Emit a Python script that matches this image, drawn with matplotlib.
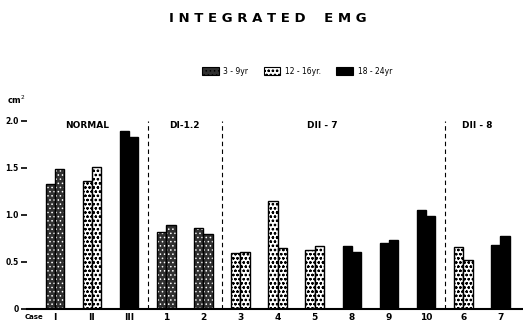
import matplotlib
matplotlib.use("Agg")
import matplotlib.pyplot as plt
from matplotlib.patches import Patch
from matplotlib.transforms import blended_transform_factory

# ---- data ----
case_labels = ["I", "II", "III", "1", "2", "3", "4", "5", "8", "9", "10", "6", "7"]
bar_a = [1.33, 1.36, 1.89, 0.82, 0.86, 0.60, 1.15, 0.63, 0.67, 0.70, 1.05, 0.66, 0.68]
bar_b = [1.49, 1.51, 1.83, 0.89, 0.80, 0.61, 0.65, 0.67, 0.61, 0.73, 0.99, 0.52, 0.78]
age_group = ["3-9", "12-16", "18-24", "3-9", "3-9", "12-16", "12-16", "12-16",
             "18-24", "18-24", "18-24", "12-16", "18-24"]
group_names = ["NORMAL", "DI-1.2", "DII - 7", "DII - 8"]
group_label_x = [0.86, 3.5, 7.2, 11.37]
dividers = [2.5, 4.5, 10.5]
yticks = [0, 0.5, 1.0, 1.5, 2.0]
ytick_labels = ["0", "0.5", "1.0", "1.5", "2.0"]
legend_labels = {"3-9": "3 - 9yr", "12-16": "12 - 16yr.", "18-24": "18 - 24yr"}

styles = {
    "3-9": dict(facecolor="#303030", edgecolor="white", hatch="...."),
    "12-16": dict(facecolor="white", edgecolor="black", hatch="oooo"),
    "18-24": dict(facecolor="black", edgecolor="black", hatch=None),
}

plt.rcParams["font.family"] = ["Liberation Sans Narrow", "DejaVu Sans"]
plt.rcParams["hatch.linewidth"] = 0.6

W, H = 523, 322
fig = plt.figure(figsize=(W / 100, H / 100), dpi=100)
ax = fig.add_axes([27 / W, 13 / H, (523 - 27) / W, 209 / H])

w = 0.25
for i, lab in enumerate(case_labels):
    st = styles[age_group[i]]
    for off, val in ((-w / 2, bar_a[i]), (w / 2, bar_b[i])):
        ax.bar(i + off, val, width=w, facecolor=st["facecolor"],
               edgecolor=st["edgecolor"], hatch=st["hatch"], linewidth=0)
        ax.bar(i + off, val, width=w, facecolor="none", edgecolor="black",
               linewidth=1.0)

for d in dividers:
    ax.axvline(d, ymin=0, ymax=2.0 / 2.22, color="black", linestyle=(0, (4, 3)),
               linewidth=0.8)

for name, gx in zip(group_names, group_label_x):
    ax.text(gx, 1.95, name, ha="center", va="center", fontsize=6.5,
            fontweight="bold")

ax.set_xlim(-0.75, 12.61)
ax.set_ylim(0, 2.22)
ax.set_xticks(range(len(case_labels)))
ax.set_xticklabels(case_labels, fontsize=6.5, fontweight="bold")
ax.set_yticks(yticks)
ax.set_yticklabels(ytick_labels, fontsize=5.5, fontweight="bold")
ax.tick_params(axis="x", length=0, pad=3)
ax.tick_params(axis="y", length=4, width=1.2, pad=2)
for s in ("top", "right", "left"):
    ax.spines[s].set_visible(False)
ax.spines["bottom"].set_linewidth(1.5)

trans = blended_transform_factory(ax.transAxes, ax.transAxes)
ax.text(-0.005, -0.025, "Case", transform=trans, ha="left", va="top",
        fontsize=5, fontweight="bold")
ax.text(-0.04, 1.0, "cm$^2$", transform=trans, ha="left", va="center",
        fontsize=6, fontweight="bold")

fig.text(268 / W, 1 - 18 / H, "I N T E G R A T E D    E M G", ha="center",
         va="center", fontsize=9.5, fontweight="bold")

handles = [Patch(facecolor=styles[k]["facecolor"], edgecolor="black",
                 hatch=styles[k]["hatch"], linewidth=0.8) for k in ["3-9", "12-16", "18-24"]]
fig.legend(handles, [legend_labels[k] for k in ["3-9", "12-16", "18-24"]],
           loc="center", bbox_to_anchor=(297 / W, 1 - 71 / H), ncol=3,
           frameon=False, fontsize=5.5, handlelength=2.2, handleheight=1.2,
           columnspacing=2.0, handletextpad=0.6)

fig.savefig("out.png", dpi=100)
